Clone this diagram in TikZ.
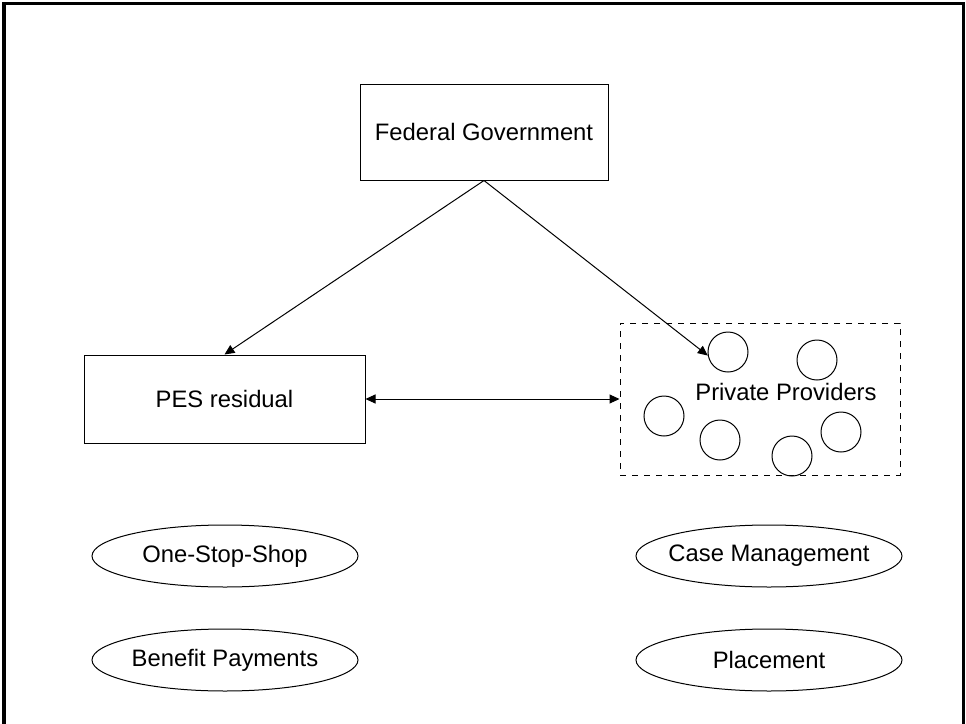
\documentclass[tikz,border=0pt]{standalone}
\usepackage{fontspec}
\setmainfont{Liberation Sans}
\usetikzlibrary{arrows.meta,positioning,shapes.geometric}

\begin{document}
\begin{tikzpicture}[x=0.5pt,y=-0.5pt,
  every node/.style={font=\fontsize{11.9}{14}\selectfont},
  block/.style={draw,line width=0.5pt,inner sep=0pt},
  provider/.style={draw,line width=0.5pt,circle,minimum size=20pt,inner sep=0pt},
  task/.style={draw,line width=0.5pt,ellipse,minimum width=133pt,minimum height=31pt,inner xsep=-8pt,inner ysep=0pt},
  link/.style={line width=0.5pt,-{Triangle[length=5pt,width=4.5pt]}}]
\useasboundingbox (0,0) rectangle (966,724);
\draw[line width=1.5pt] (4,724) -- (4,3) -- (963,3) -- (963,724);
\node[block,minimum width=124pt,minimum height=48pt] (fedgov) at (484,132) {Federal Government};
\node[block,minimum width=140.5pt,minimum height=44pt] (pes) at (224.5,399) {PES residual};
\node[block,dashed,minimum width=140pt,minimum height=76pt] (private) at (760,399) {};
\node (privlabel) at (786,392) {Private Providers};
\node[provider] (p1) at (728,352) {};
\node[provider] (p2) at (817,360) {};
\node[provider] (p3) at (664,416) {};
\node[provider] (p4) at (720,440) {};
\node[provider] (p5) at (792,456) {};
\node[provider] (p6) at (841,432) {};
\node[task] (oss) at (225,556) {One-Stop-Shop};
\node[task] (benefit) at (225,660) {Benefit Payments};
\node[task] (casemgmt) at (769,556) {Case Management};
\node[task] (placement) at (769,660) {Placement};
\draw[link] (fedgov.south) -- (pes.north);
\draw[link] (fedgov.south) -- (p1.190);
\draw[link,{Triangle[length=5pt,width=4.5pt]}-{Triangle[length=5pt,width=4.5pt]}] (pes.east) -- (private.west);
\end{tikzpicture}
\end{document}
